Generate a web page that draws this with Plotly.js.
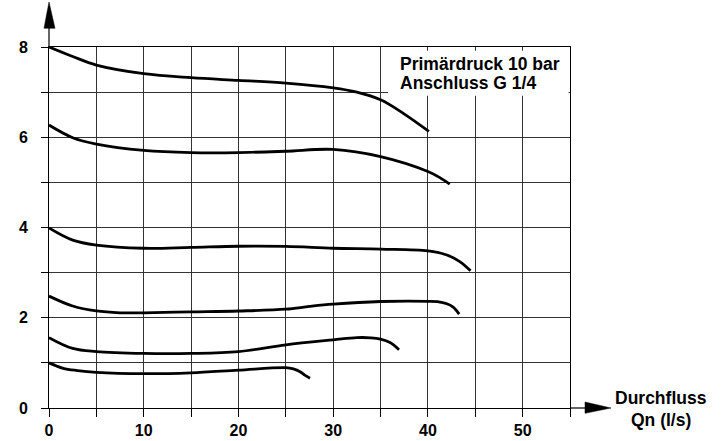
<!DOCTYPE html>
<html>
<head>
<meta charset="utf-8">
<script src="https://cdn.plot.ly/plotly-3.0.1.min.js"></script>
<style>html,body{margin:0;padding:0;background:#fff;}#chart{width:722px;height:441px;}</style>
</head>
<body>
<div id="chart"></div>
<script>
// Flow (l/s) vs outlet pressure (bar) curves
var c1x = [0, 2.5, 5, 10, 15, 20, 25, 30, 32.5, 35, 37.4, 40.1];
var c1y = [8.0, 7.79, 7.6, 7.41, 7.32, 7.26, 7.2, 7.095, 7.0, 6.83, 6.53, 6.13];
var c2x = [0, 2.5, 5, 10, 15, 20, 25, 30, 35, 40, 41.3, 42.3];
var c2y = [6.27, 5.99, 5.85, 5.71, 5.66, 5.66, 5.69, 5.73, 5.57, 5.24, 5.1, 4.96];
var c3x = [0, 2.5, 5, 10, 15, 20, 25, 30, 35, 40, 42, 43.4, 44.5];
var c3y = [3.99, 3.72, 3.61, 3.54, 3.56, 3.585, 3.58, 3.54, 3.52, 3.48, 3.39, 3.24, 3.04];
var c4x = [0, 2.5, 5, 7.5, 10, 15, 20, 25, 27.5, 30, 35, 40, 41, 42, 42.7, 43.3];
var c4y = [2.48, 2.26, 2.15, 2.11, 2.11, 2.13, 2.15, 2.19, 2.25, 2.30, 2.36, 2.365, 2.357, 2.31, 2.23, 2.08];
var c5x = [0, 2.5, 5, 10, 15, 20, 25, 30, 32.5, 34, 35, 36, 36.95];
var c5y = [1.56, 1.32, 1.25, 1.21, 1.21, 1.25, 1.40, 1.51, 1.56, 1.555, 1.525, 1.45, 1.29];
var c6x = [0, 1.5, 3, 5, 10, 15, 20, 25, 25.8, 26.5, 27.0, 27.55];
var c6y = [1.0, 0.88, 0.83, 0.79, 0.76, 0.78, 0.84, 0.894, 0.865, 0.805, 0.73, 0.66];

var xTickVals = [0, 5, 10, 15, 20, 25, 30, 35, 40, 45, 50, 55];
var xTickText = ["0", "", "10", "", "20", "", "30", "", "40", "", "50", ""];
var yTickVals = [0, 1, 2, 3, 4, 5, 6, 7, 8];
var yTickText = ["0", "", "2", "", "4", "", "6", "", "8"];

var boxLines = ["Primärdruck 10 bar", "Anschluss G 1/4"];
var xLabelLines = ["Durchfluss", "Qn (l/s)"];

var series = [[c1x, c1y], [c2x, c2y], [c3x, c3y], [c4x, c4y], [c5x, c5y], [c6x, c6y]];
var traces = series.map(function (s) {
  return {
    x: s[0], y: s[1], type: 'scatter', mode: 'lines',
    line: {color: '#000', width: 2.8, shape: 'spline', smoothing: 1.0},
    hoverinfo: 'none', showlegend: false
  };
});

var fam = 'Liberation Sans, Arial, Helvetica, sans-serif';
var font = {family: fam, size: 16, color: '#000', weight: 'bold'};
var bigFont = {family: fam, size: 17.5, color: '#000', weight: 'bold'};

var layout = {
  width: 722, height: 441,
  margin: {l: 49, r: 152, t: 47, b: 33, pad: 0},
  paper_bgcolor: '#fff', plot_bgcolor: '#fff',
  showlegend: false,
  font: font,
  xaxis: {
    range: [0, 55], tickmode: 'array', tickvals: xTickVals, ticktext: xTickText,
    ticks: 'outside', ticklen: 8, tickwidth: 1, tickcolor: '#000',
    showgrid: true, gridcolor: '#333', gridwidth: 1,
    showline: true, linecolor: '#000', linewidth: 1, mirror: true,
    zeroline: false, fixedrange: true, ticklabelstandoff: 0,
    tickfont: font
  },
  yaxis: {
    range: [0, 8], tickmode: 'array', tickvals: yTickVals, ticktext: yTickText,
    ticks: 'outside', ticklen: 7, tickwidth: 1, tickcolor: '#000',
    showgrid: true, gridcolor: '#333', gridwidth: 1,
    showline: true, linecolor: '#000', linewidth: 1, mirror: true,
    zeroline: false, fixedrange: true, ticklabelstandoff: 10,
    tickfont: font
  },
  shapes: [
    {type: 'rect', xref: 'x', yref: 'y', x0: 35.8, x1: 54.85, y0: 6.918, y1: 7.916,
     fillcolor: '#fff', line: {width: 0}, layer: 'above'},
    {type: 'line', xref: 'paper', yref: 'paper', x0: 0, x1: 0, y0: 1, y1: 1.06,
     line: {color: '#000', width: 1.2}},
    {type: 'path', xref: 'paper', yref: 'paper',
     path: 'M -0.0096 1.0518 L 0.0115 1.0518 L 0 1.1247 Z',
     fillcolor: '#000', line: {color: '#000', width: 0.5}},
    {type: 'line', xref: 'paper', yref: 'paper', x0: 1, x1: 1.035, y0: 0, y1: 0,
     line: {color: '#000', width: 1.2}},
    {type: 'path', xref: 'paper', yref: 'paper',
     path: 'M 1.0288 0.0166 L 1.0288 -0.0148 L 1.0787 0 Z',
     fillcolor: '#000', line: {color: '#000', width: 0.5}}
  ],
  annotations: [
    {text: boxLines[0], xref: 'paper', yref: 'paper', x: 0.671, y: 0.9535,
     xanchor: 'left', yanchor: 'middle', showarrow: false, font: bigFont, borderpad: 0},
    {text: boxLines[1], xref: 'paper', yref: 'paper', x: 0.671, y: 0.899,
     xanchor: 'left', yanchor: 'middle', showarrow: false, font: bigFont, borderpad: 0},
    {text: xLabelLines[0], xref: 'paper', yref: 'paper', x: 1.1747, y: 0.0269,
     xanchor: 'center', yanchor: 'middle', showarrow: false, font: bigFont, borderpad: 0},
    {text: xLabelLines[1], xref: 'paper', yref: 'paper', x: 1.1747, y: -0.0319,
     xanchor: 'center', yanchor: 'middle', showarrow: false, font: bigFont, borderpad: 0}
  ]
};

Plotly.newPlot('chart', traces, layout, {displayModeBar: false, staticPlot: true});
</script>
</body>
</html>
